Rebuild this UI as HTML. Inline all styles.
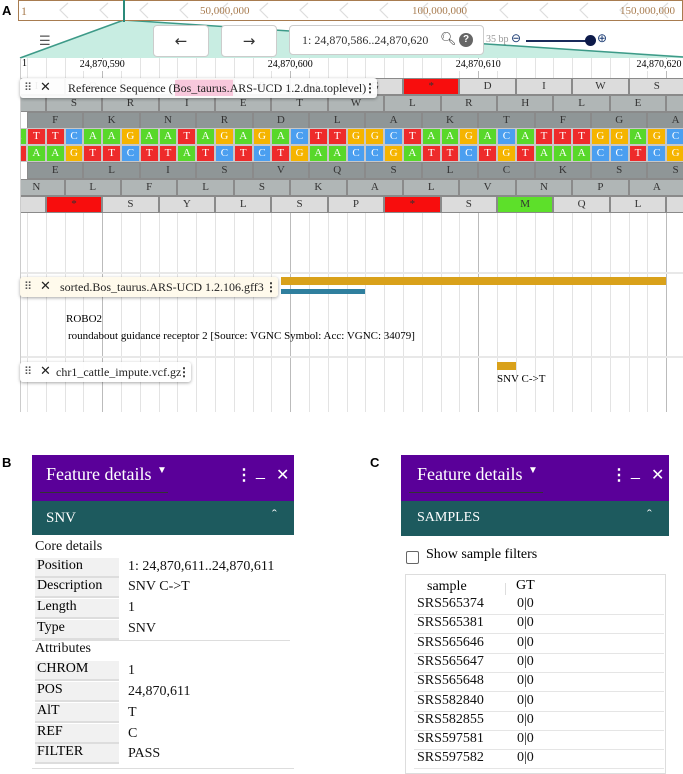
<!DOCTYPE html>
<html><head><meta charset="utf-8">
<style>
body{margin:0;width:683px;height:771px;background:#fff;position:relative;overflow:hidden;font-family:"Liberation Serif",serif;}
.a{position:absolute;}
.cell{position:absolute;box-sizing:border-box;border:1px solid #8a8a8a;font-size:11px;color:#333;text-align:center;font-family:"Liberation Serif",serif;}
.base{color:#fff;border-color:#c8c8c8;}
.lbl{font-family:"Liberation Sans",sans-serif;font-weight:bold;font-size:13px;}
.btn{position:absolute;background:#fff;border:1px solid #ccc;border-radius:4px;box-sizing:border-box;text-align:center;font-size:15px;font-family:"DejaVu Sans",sans-serif;color:#333;}
.hdr{position:absolute;background:rgba(255,255,255,0.93);box-shadow:0 1px 3px rgba(0,0,0,.35);border-radius:3px;font-size:12px;color:#222;}
.row{position:absolute;font-size:14px;color:#111;}
.klab{position:absolute;left:35px;width:84px;background:#f1f1f1;border-bottom:2px solid #ddd;box-sizing:border-box;padding-left:2px;height:20px;}
</style></head><body>
<div class="a lbl" style="left:2px;top:3px">A</div>
<svg class="a" style="left:0;top:0" width="683" height="260">
  <polygon points="124,20 20,58 683,58 683,56" fill="#c8ede2"/>
  <line x1="124" y1="20" x2="20" y2="58" stroke="#3d9a88" stroke-width="1.5"/>
  <line x1="124" y1="20" x2="683" y2="57" stroke="#3d9a88" stroke-width="1.5"/>
  <rect x="18.5" y="0.5" width="664" height="20" fill="#fff" stroke="#a87c50"/>
  <g stroke="#ddd" fill="none" stroke-width="1.2" id="chev"></g>
  <line x1="124" y1="0" x2="124" y2="22" stroke="#2b8a7a" stroke-width="2"/>
  <text x="21" y="15" font-size="12" fill="#a87c50" font-family="Liberation Serif">1</text>
  <text x="200" y="14" font-size="11" fill="#a87c50" font-family="Liberation Serif">50,000,000</text>
  <text x="412" y="14" font-size="11" fill="#a87c50" font-family="Liberation Serif">100,000,000</text>
  <text x="620" y="14" font-size="11" fill="#a87c50" font-family="Liberation Serif">150,000,000</text>
</svg>
<div class="a" style="left:39px;top:34px;font-size:13px;color:#555;font-family:'DejaVu Sans'">☰</div>
<div class="btn" style="left:153px;top:25px;width:56px;height:32px;line-height:30px">←</div>
<div class="btn" style="left:221px;top:25px;width:56px;height:32px;line-height:30px">→</div>
<div class="btn" style="left:289px;top:25px;width:195px;height:30px;line-height:28px;font-size:12px;text-align:left;padding-left:12px;font-family:'Liberation Serif'">1: 24,870,586..24,870,620
 <span style="position:absolute;left:150px;top:0;font-family:'DejaVu Sans';font-size:13px">🔍︎</span>
 <span style="position:absolute;left:169px;top:7px;width:14px;height:14px;border-radius:7px;background:#666;color:#fff;font-size:10px;line-height:14px;text-align:center;font-family:'Liberation Sans';font-weight:bold">?</span></div>
<div class="a" style="left:486px;top:34px;font-size:10px;color:#999">35 bp</div>
<div class="a" style="left:511px;top:31px;font-size:12px;color:#1a3b73">⊖</div>
<div class="a" style="left:526px;top:40px;width:64px;height:2px;background:#1a2a5a"></div>
<div class="a" style="left:585px;top:35px;width:11px;height:11px;border-radius:6px;background:#0d1a4a"></div>
<div class="a" style="left:597px;top:31px;font-size:12px;color:#1a3b73">⊕</div>

<div id="view" class="a" style="left:20px;top:58px;width:663px;height:354px;overflow:hidden;border-left:1px solid #ccc"></div>

<div class="hdr" style="left:20px;top:78px;width:357px;height:20px;line-height:20px">
  <span style="position:absolute;left:4px;color:#555;font-size:11px">⠿</span><span style="position:absolute;left:20px;font-size:13px;font-family:'DejaVu Sans'">✕</span>
  <span style="position:absolute;left:155px;top:2px;width:58px;height:16px;background:#f8c8dc"></span>
  <span style="position:absolute;left:48px">Reference Sequence (Bos_taurus.ARS-UCD 1.2.dna.toplevel)</span>
  <span style="position:absolute;left:344px;font-weight:bold">⋮</span></div>
<div class="hdr" style="left:20px;top:277px;width:258px;height:20px;line-height:20px;background:rgba(255,250,235,0.95)">
  <span style="position:absolute;left:4px;color:#555;font-size:11px">⠿</span><span style="position:absolute;left:20px;font-size:13px;font-family:'DejaVu Sans'">✕</span>
  <span style="position:absolute;left:40px">sorted.Bos_taurus.ARS-UCD 1.2.106.gff3</span>
  <span style="position:absolute;left:245px;font-weight:bold">⋮</span></div>
<div class="hdr" style="left:20px;top:362px;width:171px;height:20px;line-height:20px">
  <span style="position:absolute;left:4px;color:#555;font-size:11px">⠿</span><span style="position:absolute;left:20px;font-size:13px;font-family:'DejaVu Sans'">✕</span>
  <span style="position:absolute;left:36px">chr1_cattle_impute.vcf.gz</span>
  <span style="position:absolute;left:158px;font-weight:bold">⋮</span></div>

<div class="a lbl" style="left:2px;top:455px">B</div>
<div class="a" style="left:32px;top:455px;width:262px;height:46px;background:#5a0099;color:#fff">
  <span style="position:absolute;left:14px;top:9px;font-size:18px">Feature details</span>
  <span style="position:absolute;left:125px;top:10px;font-size:10px">▼</span>
  <div style="position:absolute;left:8px;top:37px;width:128px;height:1px;background:#333"></div>
  <span style="position:absolute;left:204px;top:10px;font-size:16px;font-weight:bold">⋮</span>
  <span style="position:absolute;left:224px;top:8px;font-size:16px;font-family:'Liberation Sans'">_</span>
  <span style="position:absolute;left:244px;top:10px;font-size:16px;font-family:'DejaVu Sans'">✕</span></div>
<div class="a" style="left:32px;top:501px;width:262px;height:34px;background:#1d5a5e;color:#fff">
  <span style="position:absolute;left:14px;top:9px;font-size:15px">SNV</span><span style="position:absolute;left:240px;top:7px;font-size:14px">ˆ</span></div>
<div id="tb"></div>
<div class="a" style="left:32px;top:768px;width:262px;height:1px;background:#ddd"></div>

<div class="a lbl" style="left:370px;top:455px">C</div>
<div class="a" style="left:401px;top:455px;width:268px;height:46px;background:#5a0099;color:#fff">
  <span style="position:absolute;left:16px;top:9px;font-size:18px">Feature details</span>
  <span style="position:absolute;left:127px;top:10px;font-size:10px">▼</span>
  <div style="position:absolute;left:8px;top:37px;width:134px;height:1px;background:#333"></div>
  <span style="position:absolute;left:210px;top:10px;font-size:16px;font-weight:bold">⋮</span>
  <span style="position:absolute;left:230px;top:8px;font-size:16px;font-family:'Liberation Sans'">_</span>
  <span style="position:absolute;left:250px;top:10px;font-size:16px;font-family:'DejaVu Sans'">✕</span></div>
<div class="a" style="left:401px;top:501px;width:268px;height:35px;background:#1d5a5e;color:#fff">
  <span style="position:absolute;left:16px;top:9px;font-size:14px">SAMPLES</span><span style="position:absolute;left:246px;top:7px;font-size:14px">ˆ</span></div>
<div class="a" style="left:406px;top:551px;width:11px;height:11px;border:1.5px solid #666;border-radius:2px"></div>
<div class="a" style="left:426px;top:547px;font-size:14px">Show sample filters</div>
<div class="a" style="left:405px;top:574px;width:261px;height:200px;border:1px solid #ddd;box-sizing:border-box"></div>
<div class="a" style="left:427px;top:579px;font-size:14px">sample</div>
<div class="a" style="left:505px;top:583px;width:1px;height:12px;background:#ddd"></div>
<div class="a" style="left:516px;top:578px;font-size:14px">GT</div>
<div id="st"></div>

<script>
// sequence data
const fwdSeq = "TTCAAGAATAGAGACTTGGCTAAGACATTTGGAGC".split("");
const revSeq = "AAGTTCTTATCTCTGAACCGATTCTGTAAACCTCG".split("");
const frame1 = ["I","Q","E","*","R","L","G","*","D","I","W","S"];
const frame2 = ["","S","R","I","E","T","W","L","R","H","L","E",""];
const frame3 = ["F","K","N","R","D","L","A","K","T","F","G","A"];
const frame4 = ["E","L","I","S","V","Q","S","L","C","K","S","S"];
const frame5 = ["N","L","F","L","S","K","A","L","V","N","P","A"];
const frame6 = ["","*","S","Y","L","S","P","*","S","M","Q","L",""];
const frameStart = [-1,-2,0,0,-1,-2];
const tickLabels = ["24,870,590","24,870,600","24,870,610","24,870,620"];
const tickBases = [4,14,24,34];
const featureBases = [[13.5,34],[13.5,18]];
const snvBase = 25;
const coreKeys = ["Position","Description","Length","Type"];
const coreVals = ["1: 24,870,611..24,870,611","SNV C->T","1","SNV"];
const attrKeys = ["CHROM","POS","AlT","REF","FILTER"];
const attrVals = ["1","24,870,611","T","C","PASS"];
const samples = ["SRS565374","SRS565381","SRS565646","SRS565647","SRS565648","SRS582840","SRS582855","SRS597581","SRS597582"];
const gts = ["0|0","0|0","0|0","0|0","0|0","0|0","0|0","0|0","0|0"];

const bw = 18.8, x0 = 6;
const bx = b => x0 + b*bw;
const view = document.getElementById('view');
const baseCol = {A:"#58d82a",T:"#ee2b2b",C:"#4b9ff0",G:"#f5b400"};
const ch = document.getElementById('chev');
for(let i=0;i<16;i++){const p=document.createElementNS("http://www.w3.org/2000/svg","polyline");
 const x=60+i*40; p.setAttribute("points",(x+8)+",3 "+x+",10 "+(x+8)+",18");
 
 
 ch.appendChild(p);}
for(let b=-1;b<=35;b++){const d=document.createElement('div');
 
 
 const t=tickBases.includes(b);
 d.style.cssText=`position:absolute;left:${bx(b)}px;top:0;width:1px;height:354px;background:${t?'#bbb':'#e3e3e3'}`;view.appendChild(d);}
tickLabels.forEach((l,i)=>{const d=document.createElement('div');
 
 
 const w=50; let left=bx(tickBases[i])-w/2; if(left+w>663) left=663-w;
 d.textContent=l;d.style.cssText=`position:absolute;left:${left}px;top:1px;width:${w}px;text-align:center;font-size:10px;background:#fff;line-height:12px;white-space:nowrap`;view.appendChild(d);});
const one=document.createElement('div');one.textContent="1";


one.style.cssText="position:absolute;left:1px;top:0;font-size:10px";view.appendChild(one);
const rowTop=[20,37,54,70,87,104,121,138], rh=17;
function cell(x,w,y,txt,bg,cls,name){const d=document.createElement('div');
 
 
 d.className='cell '+cls;d.textContent=txt;
 d.style.cssText=`left:${x}px;top:${y}px;width:${w}px;height:${rh}px;line-height:${rh-2}px;background:${bg}`;view.appendChild(d);}
const frames=[frame1,frame2,frame3,frame4,frame5,frame6];
const shade=["#dcdcdc","#b0b6b6","#8f9697","#8f9697","#b0b6b6","#dcdcdc"];
const rowIdx=[0,1,2,5,6,7];
frames.forEach((f,fi)=>{f.forEach((a,i)=>{const b=frameStart[fi]+i*3;
 let bg=shade[fi]; if(a==="*")bg="#f80d0d"; if(a==="M")bg="#5de02a";
 cell(bx(b),bw*3,rowTop[rowIdx[fi]],a,bg,'','amino-acid-cell');});});
cell(bx(-1),bw,rowTop[3],"A",baseCol.A,'base','forward-base');
fwdSeq.forEach((s,i)=>cell(bx(i),bw,rowTop[3],s,baseCol[s],'base','forward-base'));
cell(bx(-1),bw,rowTop[4],"T",baseCol.T,'base','reverse-base');
revSeq.forEach((s,i)=>cell(bx(i),bw,rowTop[4],s,baseCol[s],'base','reverse-base'));
function box(x,y,w,h,st,name){const d=document.createElement('div');
 
 
 d.style.cssText=`position:absolute;left:${x}px;top:${y}px;width:${w}px;height:${h}px;${st}`;view.appendChild(d);return d;}
box(0,214,663,2,"background:#e8e8e8","track-separator");
box(0,298,663,2,"background:#e8e8e8","track-separator");
box(bx(featureBases[0][0]),219,bx(featureBases[0][1])-bx(featureBases[0][0]),8,"background:#d9a11a","gene-feature");
box(bx(featureBases[1][0]),231,bx(featureBases[1][1])-bx(featureBases[1][0]),5,"background:#2f7f9e","transcript-feature");
const g1=box(45,255,300,16,"font-size:11px","gene-name-label");g1.textContent="ROBO2";
const g2=box(47,272,400,16,"font-size:11px;white-space:nowrap","gene-description-label");g2.textContent="roundabout guidance receptor 2 [Source: VGNC Symbol: Acc: VGNC: 34079]";
box(bx(snvBase),304,bw,8,"background:#d9a11a","snv-feature");
const s1=box(bx(snvBase),315,100,16,"font-size:11px;white-space:nowrap","snv-label");s1.textContent="SNV C->T";
function txt(x,y,t,name,st){const d=document.createElement('div');
 
 
 d.className='row';d.textContent=t;d.style.cssText=`left:${x}px;top:${y}px;${st||''}`;document.body.appendChild(d);return d;}
txt(35,539,"Core details","core-details-title");
const coreY=[558,578,599,620];
coreKeys.forEach((k,i)=>{const d=txt(35,coreY[i],k,"detail-key");d.className='klab';d.style.fontSize='14px';txt(128,coreY[i]+1,coreVals[i],"detail-value");});
const ln=document.createElement('div');ln.style.cssText="position:absolute;left:32px;top:640px;width:258px;height:1px;background:#ddd";


document.body.appendChild(ln);
txt(35,641,"Attributes","attributes-title");
const attrY=[661,682,703,724,744];
attrKeys.forEach((k,i)=>{const d=txt(35,attrY[i],k,"attribute-key");d.className='klab';d.style.fontSize='14px';txt(128,attrY[i]+2,attrVals[i],"attribute-value");});
samples.forEach((s,i)=>{const y=596+i*19.3;
 txt(417,y,s,"sample-id");txt(517,y,gts[i],"sample-gt");
 const l=document.createElement('div');l.style.cssText=`position:absolute;left:414px;top:${y+18}px;width:250px;height:1px;background:#e5e5e5`;
 
 
 document.body.appendChild(l);});
</script>
</body></html>
